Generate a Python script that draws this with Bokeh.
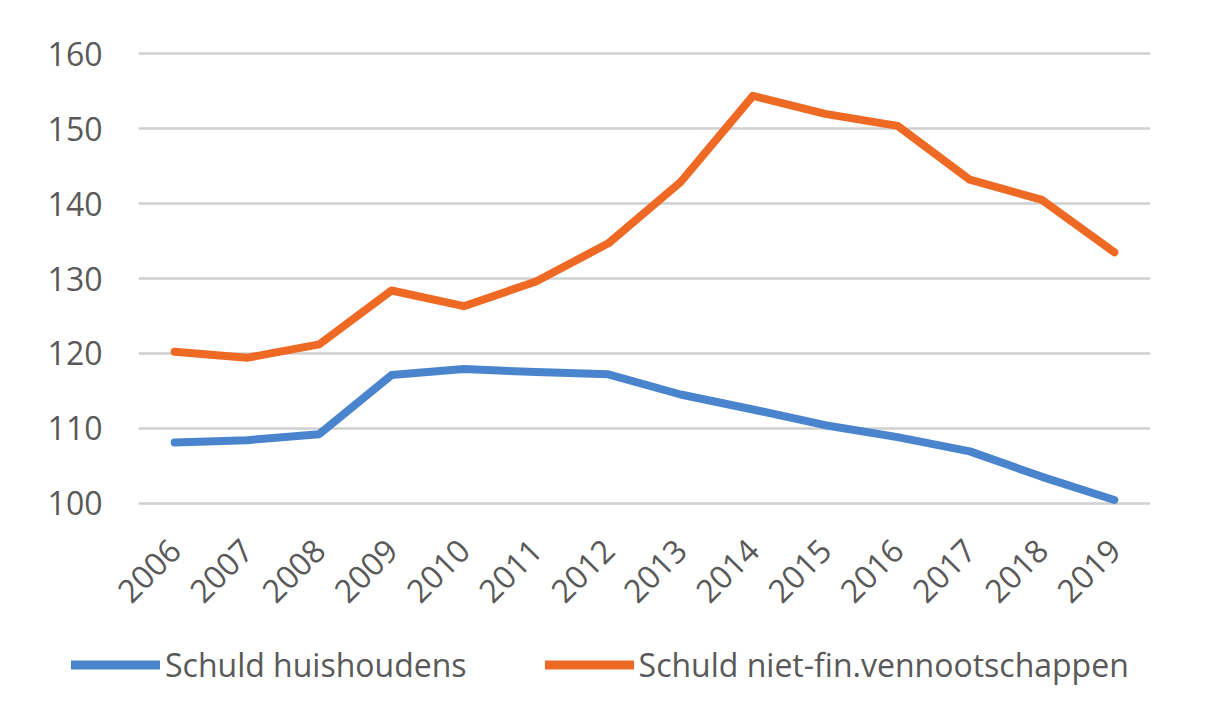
import math
from bokeh.plotting import figure
from bokeh.layouts import column
from bokeh.models import FactorRange, Range1d, FixedTicker, Legend, LegendItem, ColumnDataSource
from bokeh.embed import file_html
from bokeh.resources import INLINE

years = ["2006", "2007", "2008", "2009", "2010", "2011", "2012",
         "2013", "2014", "2015", "2016", "2017", "2018", "2019"]
huishoudens = [108.1, 108.4, 109.2, 117.1, 117.9, 117.5, 117.2,
               114.5, 112.5, 110.4, 108.8, 106.9, 103.5, 100.4]
vennootschappen = [120.2, 119.4, 121.2, 128.4, 126.3, 129.6, 134.7,
                   142.9, 154.4, 152.0, 150.4, 143.2, 140.5, 133.5]
y_ticks = [100, 110, 120, 130, 140, 150, 160]
series_names = ["Schuld huishoudens", "Schuld niet-fin.vennootschappen"]
colors = ["#4A84CC", "#EE6A24"]

FONT = "Open Sans"
TXT = "#595959"

src = ColumnDataSource(dict(x=years, h=huishoudens, v=vennootschappen))

p = figure(width=1189, height=630, x_range=FactorRange(*years),
           y_range=Range1d(99, 161), output_backend="svg",
           toolbar_location=None, min_border_left=138, min_border_right=39,
           min_border_top=46, min_border_bottom=120)
p.frame_align = False
p.outline_line_color = None
p.background_fill_color = "white"
p.border_fill_color = "white"

p.line("x", "h", source=src, line_color=colors[0], line_width=8,
       line_join="round", line_cap="round")
p.line("x", "v", source=src, line_color=colors[1], line_width=8,
       line_join="round", line_cap="round")

p.xgrid.grid_line_color = None
p.ygrid.grid_line_color = "#D0D0D0"
p.ygrid.grid_line_width = 2.5
p.yaxis.ticker = FixedTicker(ticks=y_ticks)

for ax in (p.xaxis[0], p.yaxis[0]):
    ax.axis_line_color = None
    ax.major_tick_line_color = None
    ax.minor_tick_line_color = None
    ax.major_label_text_color = TXT
    ax.major_label_text_font = FONT
    ax.major_label_text_font_size = "32px"

p.yaxis.major_label_standoff = 30
p.xaxis.major_label_orientation = math.pi / 4
p.xaxis.major_label_standoff = 28

# legend strip below the chart (key lines lie outside its visible range)
lg = figure(width=1189, height=68, x_range=Range1d(0, 1), y_range=Range1d(0, 1),
            output_backend="svg", toolbar_location=None,
            min_border_left=0, min_border_right=0, min_border_top=0, min_border_bottom=0)
lg.frame_align = False
lg.axis.visible = False
lg.grid.visible = False
lg.outline_line_color = None
k1 = lg.line(x=[-10, -9], y=[-10, -9], line_color=colors[0], line_width=9, line_cap="round")
k2 = lg.line(x=[-10, -9], y=[-10, -9], line_color=colors[1], line_width=9, line_cap="round")

legend = Legend(items=[LegendItem(label=series_names[0], renderers=[k1]),
                       LegendItem(label=series_names[1], renderers=[k2])],
                orientation="horizontal", location="left")
legend.label_text_font = FONT
legend.label_text_font_size = "32px"
legend.label_text_color = TXT
legend.glyph_width = 89
legend.label_standoff = 5
legend.spacing = 78
legend.padding = 0
legend.margin = 71
legend.border_line_color = None
legend.background_fill_alpha = 0
lg.add_layout(legend)

layout = column(p, lg, spacing=0)
open("out.html", "w").write(file_html(layout, INLINE))
